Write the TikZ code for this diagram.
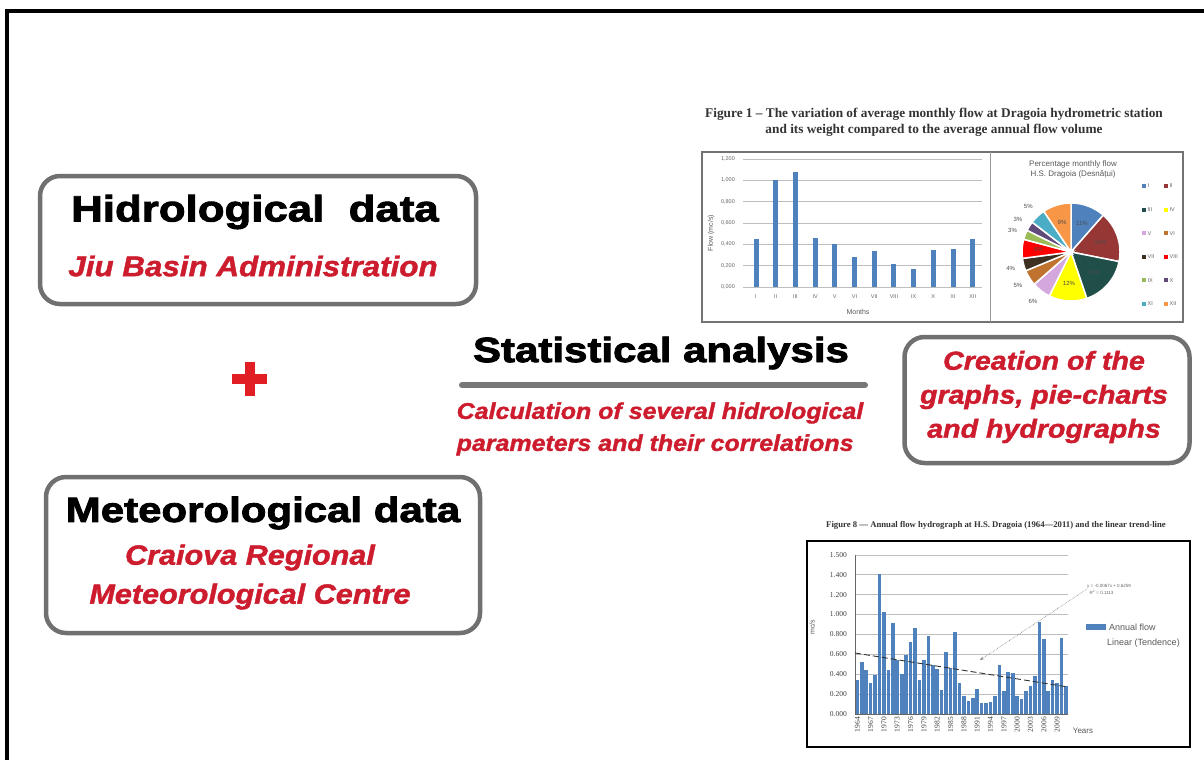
\documentclass[tikz,border=0pt]{standalone}
\usepackage{fontspec}
\setmainfont{Liberation Sans}
\newfontfamily\heavyfont{Liberation Sans}[FakeStretch=1.2,FakeBold=2.5]
\newfontfamily\slantfont{Liberation Sans}[FakeStretch=1.1,FakeBold=1.5]
\newfontfamily\capfont{Liberation Serif}
\usetikzlibrary{arrows.meta, calc}
\definecolor{boxgray}{RGB}{112,112,112}
\definecolor{rulegray}{RGB}{120,120,120}
\definecolor{hidred}{RGB}{205,28,45}
\definecolor{plusred}{RGB}{225,30,35}
\definecolor{barblue}{RGB}{79,129,189}
\definecolor{gridgray}{RGB}{190,190,190}
% pie slice colours, one per month
\definecolor{pieI}{RGB}{79,129,189}
\definecolor{pieII}{RGB}{150,55,53}
\definecolor{pieIII}{RGB}{32,78,72}
\definecolor{pieIV}{RGB}{255,255,0}
\definecolor{pieV}{RGB}{212,168,222}
\definecolor{pieVI}{RGB}{192,114,47}
\definecolor{pieVII}{RGB}{62,48,32}
\definecolor{pieVIII}{RGB}{255,0,0}
\definecolor{pieIX}{RGB}{155,187,89}
\definecolor{pieX}{RGB}{96,74,123}
\definecolor{pieXI}{RGB}{75,172,198}
\definecolor{pieXII}{RGB}{247,150,70}

\begin{document}
\begin{tikzpicture}[
	x=1pt, y=-1pt,
	% Styles for the framed source boxes
	outline/.style={draw=boxgray, line width=4.5pt, rounded corners=20pt, minimum width=436, minimum height=128},
	headtext/.style={font=\heavyfont\bfseries\fontsize{35}{40}\selectfont, text=black, inner sep=0pt},
	redtext/.style={font=\slantfont\bfseries\itshape, text=hidred, align=center, inner sep=0pt},
	% Styles for the small chart texts
	ticklabel/.style={font=\fontsize{5.5}{6}\selectfont, text=black!60, inner sep=0pt},
	axislabel/.style={font=\fontsize{7}{8}\selectfont, text=black!65, inner sep=0pt},
	captext/.style={font=\capfont\bfseries\fontsize{13.3}{16}\selectfont, text=black!80, align=center, inner sep=0pt},
	pielabel/.style={font=\fontsize{6}{7}\selectfont, text=black!70, inner sep=0pt}
	]
	
	\useasboundingbox (0,0) rectangle (1204,760);
	\fill[white] (0,0) rectangle (1204,760);
	
	% outer frame, open at right and bottom
	\draw[black, line width=4pt] (1204,11) -- (7,11) -- (7,760);
	
	% ==========================================
	% LEFT: DATA SOURCES
	% ==========================================
	\node[outline] (hidbox) at (258,240) {};
	\node[headtext, font=\heavyfont\bfseries\fontsize{36.5}{40}\selectfont] (hidhead) at (255,212) {Hidrological\ \ data};
	\node[redtext, font=\slantfont\bfseries\itshape\fontsize{28.5}{32}\selectfont] (hidsrc) at (253,266) {Jiu Basin Administration};
	
	% plus sign between the two sources
	\fill[plusred] (232,374) rectangle (267,384);
	\fill[plusred] (245,362) rectangle (255,396);
	
	\node[outline, minimum width=434, minimum height=156] (metbox) at (263,555) {};
	\node[headtext] (methead) at (263,513) {Meteorological data};
	\node[redtext, font=\slantfont\bfseries\itshape\fontsize{27.8}{39}\selectfont] (metsrc) at (250,577) {Craiova Regional\\Meteorological Centre};
	
	% ==========================================
	% CENTRE: STATISTICAL ANALYSIS
	% ==========================================
	\node[headtext] (stathead) at (661,353) {Statistical analysis};
	\draw[rulegray, line width=6pt, line cap=round] (462,385) -- (865,385);
	\node[redtext, align=left, font=\slantfont\bfseries\itshape\fontsize{22.7}{32}\selectfont] (statcalc) at (660,429) {Calculation of several hidrological\\parameters and their correlations};
	
	% ==========================================
	% RIGHT: OUTPUT BOX
	% ==========================================
	\node[outline, minimum width=285, minimum height=126] (outbox) at (1047,400) {};
	\node[redtext, font=\slantfont\bfseries\itshape\fontsize{26}{34}\selectfont] (outtext) at (1044,397) {Creation of the\\graphs, pie-charts\\and hydrographs};
	
	% ==========================================
	% FIGURE 1: MONTHLY FLOW, BARS AND PIE
	% ==========================================
	\node[captext] (fig1cap) at (934,122) {Figure 1 – The variation of average monthly flow at Dragoia hydrometric station\\and its weight compared to the average annual flow volume};
	\draw[black!55, line width=1.2pt] (702,152) rectangle (1183,322);
	\draw[black!40, line width=0.8pt] (990,152) -- (990,322);
	
	% grid and flow values (1 unit of flow = 106.7)
	\foreach \k/\lab in {0/0{,}000,1/0{,}200,2/0{,}400,3/0{,}600,4/0{,}800,5/1{,}000,6/1{,}200} {
		\draw[gridgray, line width=0.6pt] (743,{287-\k*21.33}) -- (982,{287-\k*21.33});
		\node[ticklabel, anchor=east] (fy\k) at (735,{287-\k*21.33}) {\lab};
	}
	\foreach \v [count=\i] in {0.446,1.0,1.074,0.459,0.405,0.283,0.339,0.214,0.17,0.346,0.355,0.449}
		\fill[barblue] ({756+(\i-1)*19.7-2.5},287) rectangle ++(5,{-\v*106.7});
	\foreach \m [count=\i] in {I,II,III,IV,V,VI,VII,VIII,IX,X,XI,XII}
		\node[ticklabel] (mon\i) at ({756+(\i-1)*19.7},297) {\m};
	\node[axislabel] (months) at (858,312) {Months};
	\node[axislabel, rotate=90] (flowax) at (711,233) {Flow (mc/s)};
	
	% pie of monthly shares, slices pushed slightly outward
	\coordinate (piec) at (1071,252);
	\node[axislabel, align=center, font=\fontsize{8}{10}\selectfont] (pietitle) at (1073,169) {Percentage monthly flow\\H.S. Dragoia (Desnățui)};
	\foreach \a/\b/\col/\lab/\rr in {0/11/pieI/11\%/0.62, 11/27/pieII/16\%/0.62, 27/43/pieIII/16\%/0.62, 43/55/pieIV/12\%/0.62,
		55/61/pieV/6\%/1.25, 61/66/pieVI/5\%/1.25, 66/70/pieVII/4\%/1.25, 70/76/pieVIII/6\%/0.65,
		76/79/pieIX/3\%/1.25, 79/82/pieX/3\%/1.25, 82/87/pieXI/5\%/1.25, 87/96/pieXII/9\%/0.62} {
		\pgfmathsetmacro\sa{-90+\a*3.75}
		\pgfmathsetmacro\ea{-90+\b*3.75}
		\pgfmathsetmacro\ma{(\sa+\ea)/2}
		\fill[\col, draw=white, line width=1.5pt, shift={(\ma:4)}] (piec) -- ++(\sa:49) arc[start angle=\sa, end angle=\ea, radius=49] -- cycle;
		\node[pielabel] at ($(piec)+(\ma:{50*\rr})$) {\lab};
	}
	% pie legend, two columns
	\foreach \col/\lab [count=\i from 0] in {pieI/I,pieII/II,pieIII/III,pieIV/IV,pieV/V,pieVI/VI,pieVII/VII,pieVIII/VIII,pieIX/IX,pieX/X,pieXI/XI,pieXII/XII} {
		\pgfmathtruncatemacro\row{\i/2}
		\pgfmathtruncatemacro\cl{mod(\i,2)}
		\fill[\col] ({1142+\cl*22},{184+\row*23.6}) rectangle ++(4,4);
		\node[ticklabel, anchor=west] (leg\i) at ({1147.5+\cl*22},{186+\row*23.6}) {\lab};
	}
	
	% ==========================================
	% FIGURE 8: ANNUAL FLOW HYDROGRAPH
	% ==========================================
	\node[captext, font=\capfont\bfseries\fontsize{8.7}{10}\selectfont] (fig8cap) at (996,525) {Figure 8 — Annual flow hydrograph at H.S. Dragoia (1964—2011) and the linear trend-line};
	\draw[black, line width=2pt] (807,541) rectangle (1190,747);
	
	% grid and flow values (1 unit of flow = 99.4)
	\foreach \k/\lab in {0/0.000,1/0.200,2/0.400,3/0.600,4/0.800,5/1.000,6/1.200,7/1.400,8/1.500} {
		\ifnum\k>0 \draw[gridgray, line width=0.6pt] (855,{714-\k*19.9}) -- (1068,{714-\k*19.9}); \fi
		\node[ticklabel, anchor=east, font=\capfont\fontsize{7.5}{8}\selectfont, text=black!75] (hy\k) at (847,{714-\k*19.9}) {\lab};
	}
	\foreach \v [count=\i from 0] in {0.34,0.52,0.44,0.31,0.39,1.41,1.03,0.44,0.92,0.54,
		0.40,0.59,0.72,0.87,0.34,0.54,0.78,0.49,0.45,0.24,
		0.62,0.46,0.83,0.31,0.18,0.13,0.16,0.25,0.11,0.11,
		0.12,0.18,0.49,0.23,0.42,0.41,0.18,0.15,0.23,0.28,
		0.38,0.93,0.75,0.23,0.34,0.31,0.76,0.28}
		\fill[barblue] ({855.5+\i*4.44},714) rectangle ++(3.6,{-\v*99.4});
	\draw[black!60, line width=0.7pt] (855,555) -- (855,714) -- (1068,714);
	
	% linear trend and its equation
	\coordinate (trendA) at (855,653);
	\coordinate (trendB) at (1068,687);
	\draw[black!80, line width=0.9pt, dash pattern=on 6pt off 3pt] (trendA) -- (trendB);
	\coordinate (trendpt) at (980,660);
	\node[ticklabel, anchor=west, align=left, font=\fontsize{4.5}{7}\selectfont] (eqn) at (1087,589) {y = -0.0067x + 0.6259\\\ \ R\textsuperscript{2} = 0.1113};
	\draw[black!50, densely dotted, line width=0.6pt, -{Stealth[length=4pt]}] (eqn.west) -- (trendpt);
	
	% years along the axis, every third one
	\foreach \yr [count=\i from 0] in {1964,1967,...,2009}
		\node[ticklabel, rotate=90, anchor=east, font=\capfont\fontsize{7.5}{8}\selectfont, text=black!75] (yr\i) at ({855.5+3*\i*4.44+1.8},717) {\yr};
	\node[axislabel, font=\fontsize{8}{9}\selectfont] (years) at (1083,731) {Years};
	\node[axislabel, rotate=90, font=\fontsize{7}{8}\selectfont] (mcs) at (812,627) {mc/s};
	
	% legend
	\fill[barblue] (1086,624) rectangle (1106,630);
	\node[axislabel, anchor=west, font=\fontsize{9}{10}\selectfont] (legflow) at (1109,627) {Annual flow};
	\node[axislabel, anchor=west, font=\fontsize{9}{10}\selectfont] (legtrend) at (1107,643) {Linear (Tendence)};
	
\end{tikzpicture}
\end{document}
